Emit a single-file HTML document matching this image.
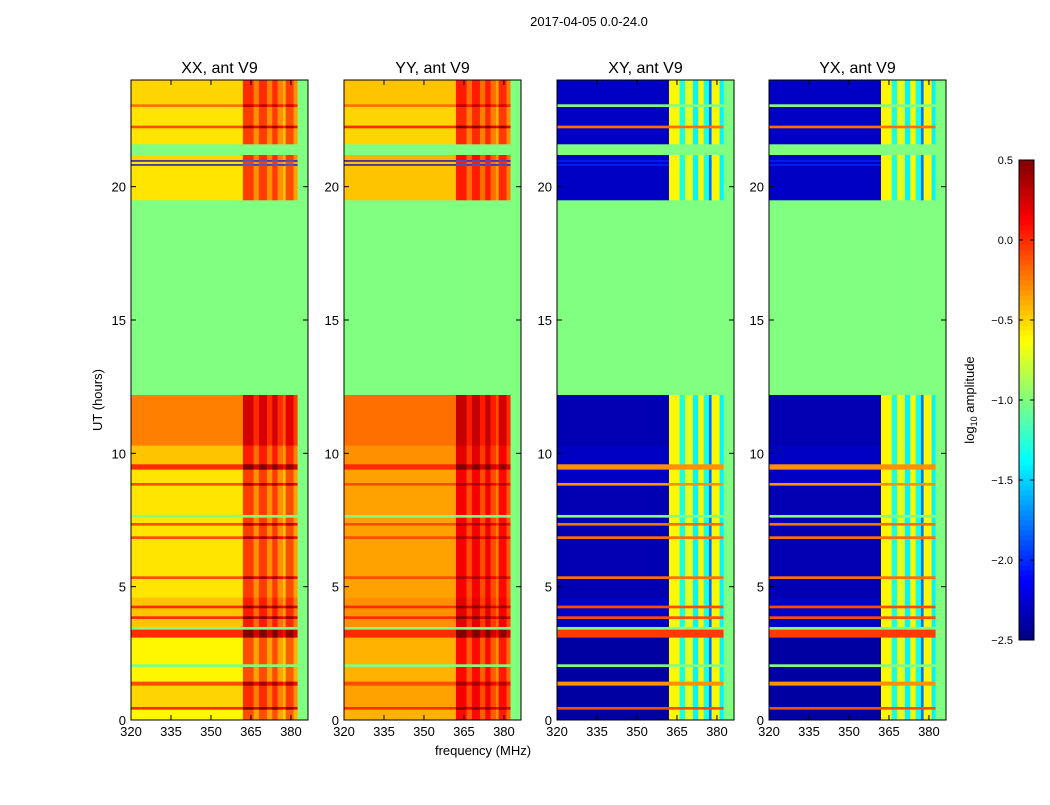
<!DOCTYPE html>
<html><head><meta charset="utf-8"><style>
body{margin:0;background:#fff;width:1050px;height:800px;overflow:hidden;font-family:"Liberation Sans",sans-serif}
</style></head><body>
<svg id="fig" width="1050" height="800" xmlns="http://www.w3.org/2000/svg" font-family="Liberation Sans, sans-serif">
<text x="589" y="26" font-size="13" text-anchor="middle">2017-04-05 0.0-24.0</text>
<text x="102" y="400" font-size="13" text-anchor="middle" transform="rotate(-90 102 400)">UT (hours)</text>
<text x="483" y="755" font-size="13" text-anchor="middle">frequency (MHz)</text>
<g id="panels"></g>
<g id="cbar"></g>
</svg>
<script>
// time bands: [start hour, end hour]
const bandStart=[0,0.4,0.5,1.3,1.45,2.0,2.1,3.1,3.4,3.5,3.8,3.9,4.2,4.3,4.6,5.3,5.4,6.8,6.9,7.3,7.4,7.6,7.7,8.8,8.9,9.4,9.6,10.3,12.2,19.5,20.6,20.8,20.85,20.95,21.0,21.2,21.6,22.2,22.3,23.0,23.1,24];
const xxLevel=[-0.6,0.0,-0.5,-0.1,-0.6,-1.0,-0.6,0.0,-1.0,-0.45,0.0,-0.45,0.0,-0.45,-0.55,-0.1,-0.55,-0.1,-0.55,-0.1,-0.55,-1.0,-0.55,-0.1,-0.55,0.0,-0.45,-0.25,-1.0,-0.55,-0.55,-2.3,-0.55,-2.3,-0.5,-1.0,-0.55,-0.1,-0.55,-0.2,-0.5];
const yyLevel=[-0.4,0.0,-0.35,-0.1,-0.4,-1.0,-0.4,0.0,-1.0,-0.3,0.0,-0.3,0.0,-0.3,-0.35,-0.1,-0.35,-0.1,-0.35,-0.1,-0.35,-1.0,-0.35,-0.1,-0.35,0.0,-0.3,-0.2,-1.0,-0.45,-0.45,-2.3,-0.45,-2.3,-0.4,-1.0,-0.5,0.0,-0.5,-0.2,-0.45];
const crossLevel=[-2.4,-0.1,-2.4,-0.3,-2.4,-1.0,-2.4,-0.05,-1.0,-2.3,-0.1,-2.3,-0.1,-2.3,-2.35,-0.2,-2.35,-0.2,-2.35,-0.2,-2.35,-1.0,-2.35,-0.3,-2.3,-0.3,-2.3,-2.35,-1.0,-2.3,-2.3,-2.0,-2.3,-2.0,-2.3,-1.0,-2.3,-0.2,-2.3,-1.0,-2.3];
const noData=-1.0;
// frequency bands (MHz) and RFI boost for auto / level for cross
const freqStart=[320,362,366,368,371,373,375,377,378,381,382.5,386.4];
const autoBoost=[0,0.5,0.25,0.5,0.25,0.5,0.25,0.1,0.45,0.2,null];
const crossRfi=[null,-0.6,-1.3,-0.7,-1.4,-0.6,-1.3,-1.8,-0.6,-1.4,null];
const panelTitles=["XX, ant V9","YY, ant V9","XY, ant V9","YX, ant V9"];
const panelX=[131,344,557,769];
const xTicks=[320,335,350,365,380];
const yTicks=[0,5,10,15,20];
const cbTicks=[0.5,0.0,-0.5,-1.0,-1.5,-2.0,-2.5];

const PW=177,PT=80,PB=720,F0=320,F1=386.4;
const xs=f=>(f-F0)/(F1-F0)*PW;
const ys=t=>PB-(t/24)*(PB-PT);
function jet(v){let x=(v+2.5)/3;x=Math.max(0,Math.min(1,x));
 const c=a=>Math.round(255*Math.max(0,Math.min(1,a)));
 const r=c(1.5-Math.abs(4*x-3)),g=c(1.5-Math.abs(4*x-2)),b=c(1.5-Math.abs(4*x-1));
 return `rgb(${r},${g},${b})`;}
const NS="http://www.w3.org/2000/svg";
function el(t,a,p){const e=document.createElementNS(NS,t);for(const k in a)e.setAttribute(k,a[k]);p.appendChild(e);return e;}
const root=document.getElementById('panels');
panelTitles.forEach((title,pi)=>{
 const g=el('g',{transform:`translate(${panelX[pi]},0)`},root);
 
 
 for(let ti=0;ti<bandStart.length-1;ti++){
  for(let fi=0;fi<freqStart.length-1;fi++){
   const base=pi==0?xxLevel[ti]:pi==1?yyLevel[ti]:crossLevel[ti];
   let v;
   if(autoBoost[fi]===null) v=noData;
   else if(base===noData) v=noData;
   else if(pi<2) v=Math.min(0.5,base+autoBoost[fi]);
   else v=crossRfi[fi]===null?base:(base>-1.5?Math.max(base,crossRfi[fi]):crossRfi[fi]);
   const y0=ys(bandStart[ti+1]),y1=ys(bandStart[ti]);
   const r=el('rect',{x:xs(freqStart[fi]),y:y0,width:xs(freqStart[fi+1])-xs(freqStart[fi])+0.3,height:y1-y0+0.3,fill:jet(v)},g);
   
   
  }
 }
 el('rect',{x:0,y:PT,width:PW,height:PB-PT,fill:'none',stroke:'#000','stroke-width':1},g);
 const t=el('text',{x:PW/2,y:73,'font-size':16,'text-anchor':'middle'},g);t.textContent=title;
 
 xTicks.forEach(f=>{const x=xs(f);el('line',{x1:x,x2:x,y1:PB,y2:PB-5,stroke:'#000'},g);el('line',{x1:x,x2:x,y1:PT,y2:PT+5,stroke:'#000'},g);
  const l=el('text',{x:x,y:PB+16,'font-size':13,'text-anchor':'middle'},g);l.textContent=f;
  });
 yTicks.forEach(h=>{const y=ys(h);el('line',{x1:0,x2:5,y1:y,y2:y,stroke:'#000'},g);el('line',{x1:PW,x2:PW-5,y1:y,y2:y,stroke:'#000'},g);
  const l=el('text',{x:-5,y:y+5,'font-size':13,'text-anchor':'end'},g);l.textContent=h;
  });
});
// colorbar
const cb=document.getElementById('cbar');
const CX=1019,CW=15,CT=160,CB=640;
const cys=v=>CB-(v+2.5)/3*(CB-CT);
for(let i=0;i<96;i++){const v=-2.5+3*(i+0.5)/96;const y=cys(-2.5+3*(i+1)/96);
 const r=el('rect',{x:CX,y:y,width:CW,height:(CB-CT)/96+0.5,fill:jet(v)},cb);
 }
el('rect',{x:CX,y:CT,width:CW,height:CB-CT,fill:'none',stroke:'#000'},cb);
cbTicks.forEach(v=>{const y=cys(v);el('line',{x1:CX,x2:CX+4,y1:y,y2:y,stroke:'#000'},cb);el('line',{x1:CX+CW,x2:CX+CW-4,y1:y,y2:y,stroke:'#000'},cb);
 const l=el('text',{x:CX-6,y:y+4,'font-size':11,'text-anchor':'end'},cb);l.textContent=v.toFixed(1).replace('-','\u2212');
 });
const cl=el('text',{x:974,y:400,'font-size':13,'text-anchor':'middle',transform:'rotate(-90 974 400)'},cb);
cl.innerHTML='log<tspan font-size="9" dy="3">10</tspan><tspan dy="-3"> amplitude</tspan>';

</script>
</body></html>
